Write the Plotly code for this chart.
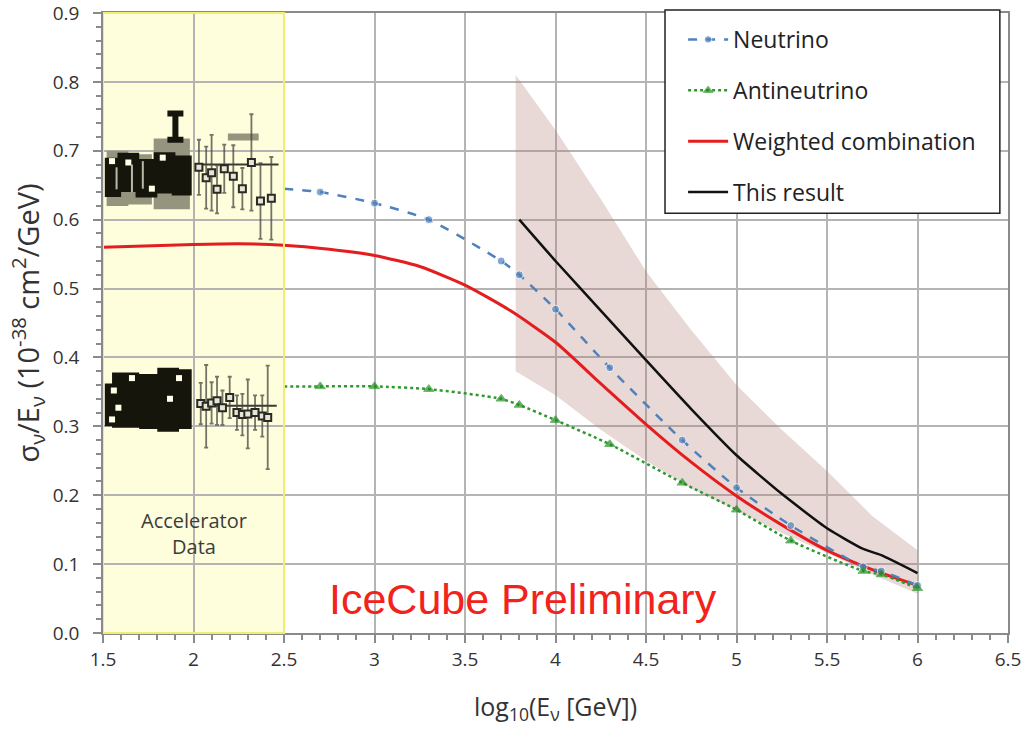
import plotly.graph_objects as go

# ---------------- data ----------------
# Model predictions (sigma/E in 1e-38 cm^2/GeV vs log10 E/GeV)
nu_x = [2.5, 2.7, 3.0, 3.3, 3.7, 3.8, 4.0, 4.3, 4.7, 5.0, 5.3, 5.7, 5.8, 6.0]
nu_y = [0.645, 0.640, 0.624, 0.600, 0.540, 0.520, 0.470, 0.385, 0.280, 0.211, 0.156, 0.096, 0.090, 0.069]

anti_x = [2.5, 2.7, 3.0, 3.3, 3.7, 3.8, 4.0, 4.3, 4.7, 5.0, 5.3, 5.7, 5.8, 6.0]
anti_y = [0.358, 0.358, 0.358, 0.354, 0.340, 0.331, 0.309, 0.274, 0.218, 0.179, 0.134, 0.090, 0.085, 0.065]

comb_x = [1.5, 2.0, 2.25, 2.5, 2.75, 3.0, 3.25, 3.5, 3.75, 4.0, 4.25, 4.5, 4.75, 5.0, 5.25, 5.5, 5.75, 6.0]
comb_y = [0.560, 0.564, 0.565, 0.563, 0.557, 0.548, 0.532, 0.505, 0.468, 0.422, 0.362, 0.303, 0.248,
          0.199, 0.157, 0.120, 0.092, 0.069]

# Measured result and its uncertainty band
res_x = [3.8, 4.0, 4.25, 4.5, 4.75, 5.0, 5.25, 5.5, 5.7, 5.8, 6.0]
res_y = [0.600, 0.540, 0.468, 0.396, 0.325, 0.258, 0.202, 0.152, 0.122, 0.113, 0.087]

band_x = [3.78, 4.0, 4.25, 4.5, 4.75, 5.0, 5.25, 5.5, 5.75, 6.0]
band_hi = [0.81, 0.73, 0.63, 0.525, 0.44, 0.36, 0.295, 0.235, 0.17, 0.12]
band_lo = [0.38, 0.345, 0.295, 0.25, 0.21, 0.178, 0.145, 0.116, 0.085, 0.057]

# Accelerator energy range
acc_range = [1.5, 2.5]

# Older accelerator measurements: bin boxes (x0, x1, y0, y1)
acc_gray_boxes = [
    (1.52, 1.64, 0.620, 0.700),
    (1.63, 1.77, 0.622, 0.695),
    (1.78, 1.98, 0.615, 0.718),
]
acc_black_boxes = [
    (1.51, 1.60, 0.633, 0.690),
    (1.58, 1.70, 0.640, 0.697),
    (1.68, 1.80, 0.632, 0.688),
    (1.78, 1.90, 0.638, 0.698),
    (1.88, 1.99, 0.635, 0.693),
    (1.51, 1.58, 0.300, 0.362),
    (1.55, 1.70, 0.298, 0.378),
    (1.70, 1.82, 0.296, 0.376),
    (1.80, 1.92, 0.292, 0.385),
    (1.90, 1.99, 0.296, 0.383),
]
acc_hole_x = [1.55, 1.64, 1.83, 1.77, 1.55, 1.585, 1.66, 1.92, 1.56, 1.87]
acc_hole_y = [0.685, 0.683, 0.690, 0.645, 0.310, 0.327, 0.370, 0.370, 0.352, 0.340]

acc_inner_x = [1.575, 1.66, 1.72]
acc_inner_y = [0.660, 0.660, 0.665]
acc_inner_err = [0.016, 0.020, 0.020]

acc_cap_x = [1.90]
acc_cap_y = [0.735]
acc_cap_err = [0.019]

# Newer accelerator measurements
acc_nu_x = [2.03, 2.07, 2.10, 2.13, 2.17, 2.22, 2.27, 2.32, 2.37, 2.43]
acc_nu_y = [0.676, 0.661, 0.668, 0.644, 0.674, 0.663, 0.645, 0.683, 0.627, 0.631]
acc_nu_err = [0.040, 0.045, 0.055, 0.035, 0.035, 0.045, 0.030, 0.070, 0.055, 0.060]

acc_anti_x = [2.04, 2.07, 2.10, 2.13, 2.16, 2.20, 2.24, 2.27, 2.30, 2.34, 2.38, 2.41]
acc_anti_y = [0.333, 0.329, 0.334, 0.337, 0.327, 0.342, 0.320, 0.317, 0.318, 0.320, 0.315, 0.313]
acc_anti_err = [0.030, 0.060, 0.030, 0.035, 0.025, 0.030, 0.025, 0.030, 0.050, 0.025, 0.030, 0.075]

# Wide-bin averages (centre, half-width)
acc_avg_x = [2.245, 2.240]
acc_avg_y = [0.680, 0.330]
acc_avg_xerr = [0.225, 0.220]

acc_wide_x = [2.275]
acc_wide_y = [0.720]
acc_wide_xerr = [0.085]

# ---------------- styling ----------------
FONT = "Open Sans"
TXT = "#333333"
GRID = "#B4B4B4"
AXIS = "#8A8A8A"
NU_BLUE = "#4F81BD"
ANTI_GREEN = "#2E9A2E"
COMB_RED = "#E41E1E"

# legend frame in paper coordinates
LEGEND_BOX = dict(x0=0.621, x1=0.991, y0=0.677, y1=1.005)


def boxes_to_path(boxes):
    xs, ys = [], []
    for x0, x1, y0, y1 in boxes:
        xs += [x0, x1, x1, x0, x0, None]
        ys += [y0, y0, y1, y1, y0, None]
    return xs, ys


fig = go.Figure()

# Uncertainty band of this result
fig.add_trace(go.Scatter(
    x=band_x + band_x[::-1], y=band_hi + band_lo[::-1],
    fill="toself", fillcolor="rgba(178,128,122,0.30)",
    line=dict(width=0), mode="lines", showlegend=False, hoverinfo="skip"))

# Accelerator data: old binned measurements
gx, gy = boxes_to_path(acc_gray_boxes)
fig.add_trace(go.Scatter(x=gx, y=gy, fill="toself", fillcolor="#94947F",
                         line=dict(width=0), mode="lines", showlegend=False, hoverinfo="skip"))
bx, by = boxes_to_path(acc_black_boxes)
fig.add_trace(go.Scatter(x=bx, y=by, fill="toself", fillcolor="#15150C",
                         line=dict(width=0), mode="lines", showlegend=False, hoverinfo="skip"))
fig.add_trace(go.Scatter(x=acc_hole_x, y=acc_hole_y, mode="markers",
                         marker=dict(symbol="square", size=6, color="#FFFFEA"),
                         showlegend=False, hoverinfo="skip"))
fig.add_trace(go.Scatter(x=acc_inner_x, y=acc_inner_y, mode="markers",
                         marker=dict(size=0.1, color="#B8B8A8"),
                         error_y=dict(type="data", array=acc_inner_err, color="#B8B8A8", thickness=2, width=0),
                         showlegend=False, hoverinfo="skip"))
fig.add_trace(go.Scatter(x=acc_cap_x, y=acc_cap_y, mode="markers",
                         marker=dict(size=0.1, color="#15150C"),
                         error_y=dict(type="data", array=acc_cap_err, color="#15150C", thickness=6, width=8),
                         showlegend=False, hoverinfo="skip"))

# Accelerator data: newer measurements
fig.add_trace(go.Scatter(x=acc_wide_x, y=acc_wide_y, mode="markers",
                         marker=dict(size=0.1, color="#94947F"),
                         error_x=dict(type="data", array=acc_wide_xerr, color="#94947F", thickness=7, width=0),
                         showlegend=False, hoverinfo="skip"))
fig.add_trace(go.Scatter(x=acc_avg_x, y=acc_avg_y, mode="markers",
                         marker=dict(size=0.1, color="#333333"),
                         error_x=dict(type="data", array=acc_avg_xerr, color="#3A3A34", thickness=2, width=0),
                         showlegend=False, hoverinfo="skip"))
for ax_, ay_, ae_ in ((acc_nu_x, acc_nu_y, acc_nu_err), (acc_anti_x, acc_anti_y, acc_anti_err)):
    fig.add_trace(go.Scatter(
        x=ax_, y=ay_, mode="markers",
        marker=dict(symbol="square", size=7, color="#E6E6D6", line=dict(color="#2A2A24", width=2)),
        error_y=dict(type="data", array=ae_, color="rgba(70,70,60,0.75)", thickness=1.8, width=2),
        showlegend=False, hoverinfo="skip"))

# Model curves and result
fig.add_trace(go.Scatter(
    x=comb_x, y=comb_y, mode="lines", name="Weighted combination",
    line=dict(color=COMB_RED, width=3, shape="spline", smoothing=0.6),
    legendrank=3, legendgroup="c"))
fig.add_trace(go.Scatter(
    x=nu_x, y=nu_y, mode="lines+markers", name="Neutrino",
    line=dict(color=NU_BLUE, width=2.5, dash="dash", shape="spline", smoothing=0.6),
    marker=dict(symbol="circle", size=[0] + [8] * (len(nu_x) - 1), color=NU_BLUE),
    legendrank=1, legendgroup="a"))
fig.add_trace(go.Scatter(
    x=anti_x, y=anti_y, mode="lines+markers", name="Antineutrino",
    line=dict(color=ANTI_GREEN, width=2.5, dash="dot", shape="spline", smoothing=0.6),
    marker=dict(symbol="triangle-up", size=[0] + [9] * (len(anti_x) - 1), color="#1F8A1F"),
    legendrank=2, legendgroup="b"))
fig.add_trace(go.Scatter(
    x=res_x, y=res_y, mode="lines", name="This result",
    line=dict(color="#111111", width=2.5, shape="spline", smoothing=0.5),
    legendrank=4, legendgroup="d"))

# Accelerator energy region (fill below the grid, outline on top)
fig.add_shape(type="rect", xref="x", yref="paper", x0=acc_range[0], x1=acc_range[1], y0=0, y1=1,
              fillcolor="#FEFEDD", line=dict(width=0), layer="below")
fig.add_shape(type="rect", xref="x", yref="paper", x0=acc_range[0], x1=acc_range[1], y0=0, y1=1,
              fillcolor="rgba(0,0,0,0)", line=dict(color="#EEEE72", width=2), layer="above")

# Legend frame
fig.add_shape(type="rect", xref="paper", yref="paper", **LEGEND_BOX,
              fillcolor="white", line=dict(color="#222222", width=1.5), layer="above")

fig.add_annotation(x=2.0, y=0.145, xref="x", yref="y", text="Accelerator<br>Data", showarrow=False,
                   font=dict(family=FONT, size=20, color="#3C3C3C"), align="center")
fig.add_annotation(x=3.82, y=0.050, xref="x", yref="y", text="IceCube Preliminary", showarrow=False,
                   font=dict(family="Liberation Sans", size=43, color="#F2231B"))

fig.update_xaxes(
    range=[1.5, 6.5], dtick=0.5, tick0=1.5, automargin=False, ticklabeloverflow="allow",
    showgrid=True, gridcolor=GRID, gridwidth=1.5,
    showline=True, linecolor=AXIS, linewidth=1.5, mirror=True,
    ticks="outside", ticklen=8, tickcolor=AXIS, tickwidth=1.5,
    minor=dict(dtick=0.1, ticks="outside", ticklen=5, tickcolor=AXIS, showgrid=False),
    tickfont=dict(family=FONT, size=19, color=TXT),
    title=dict(text="log<sub>10</sub>(E<sub>ν</sub> [GeV])", font=dict(family=FONT, size=25, color=TXT),
               standoff=28),
    zeroline=False)
fig.update_yaxes(
    range=[0, 0.9], tickmode="array", tickvals=[i / 10 for i in range(10)], tickformat=".1f",
    automargin=False, ticklabeloverflow="allow",
    showgrid=True, gridcolor=GRID, gridwidth=1.5,
    showline=True, linecolor=AXIS, linewidth=1.5, mirror=True,
    ticks="outside", ticklen=8, tickcolor=AXIS, tickwidth=1.5,
    minor=dict(dtick=0.02, ticks="outside", ticklen=5, tickcolor=AXIS, showgrid=False),
    tickfont=dict(family=FONT, size=19, color=TXT),
    ticklabelstandoff=10,
    title=dict(text="σ<sub>ν</sub>/E<sub>ν</sub> (10<sup>-38</sup> cm<sup>2</sup>/GeV)",
               font=dict(family=FONT, size=29, color=TXT), standoff=5),
    zeroline=False)

fig.update_layout(
    width=1024, height=730,
    margin=dict(l=103, r=16, t=13, b=97),
    paper_bgcolor="white", plot_bgcolor="white",
    legend=dict(x=0.641, y=0.992, xanchor="left", yanchor="top",
                bgcolor="rgba(0,0,0,0)", borderwidth=0,
                font=dict(family=FONT, size=23, color="#222222"),
                traceorder="grouped", tracegroupgap=18, itemwidth=40),
    showlegend=True,
)

fig.write_html("out.html")
